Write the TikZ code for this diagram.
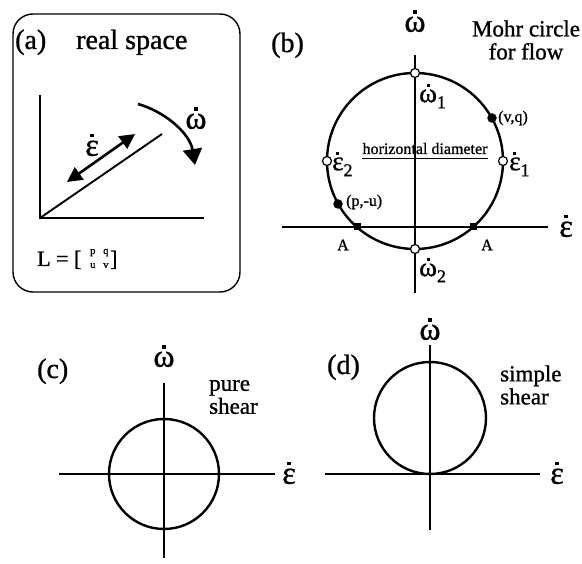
\documentclass[tikz,border=0pt]{standalone}
\usepackage{fontspec}
\setmainfont{Liberation Serif}[FakeBold=1]
\usetikzlibrary{arrows.meta}
\newcommand\dotted[1]{\leavevmode\vbox{\offinterlineskip\halign{\hss##\hss\cr\rule{0.11em}{0.11em}\cr\noalign{\kern0.1em}#1\cr}}}
\newcommand\dotw{\dotted{ω}}
\newcommand\dote{\dotted{ε}}
\begin{document}
\begin{tikzpicture}[x=1pt,y=-1pt,
  axis/.style={line width=1.8pt},
  mohr/.style={line width=2.4pt},
  opendot/.style={circle,draw,fill=white,line width=1.2pt,inner sep=0pt,minimum size=9pt},
  fulldot/.style={circle,fill=black,inner sep=0pt,minimum size=9.5pt},
  sqdot/.style={rectangle,fill=black,inner sep=0pt,minimum size=7pt},
  biglab/.style={font=\fontsize{28}{28}\selectfont,inner sep=0pt},
  axlab/.style={font=\fontsize{32}{32}\selectfont,inner sep=0pt},
  ptlab/.style={font=\fontsize{27}{27}\selectfont,inner sep=0pt},
  smalllab/.style={font=\fontsize{16}{16}\selectfont,inner sep=0pt},
  note/.style={font=\fontsize{23}{23}\selectfont,inner sep=0pt},
  matlab/.style={font=\fontsize{10.5}{10.5}\selectfont,inner sep=0pt},
  thickarrow/.style={line width=2.6pt},
]
\useasboundingbox (0,0) rectangle (582,564);

% ---------- panel (a)
\draw[line width=1.4pt, rounded corners=20pt] (13,14) rectangle (240,292);
\node[biglab, anchor=base west] (alab) at (15,49) {(a)};
\node[biglab, anchor=base west] (rs) at (76,49) {real space};
\coordinate (ao) at (40,218);
\coordinate (ay) at (40,95);
\coordinate (ax) at (204,218);
\coordinate (ad) at (162,134);
\draw[line width=1.9pt] (ay) -- (ao) -- (ax);
\draw[line width=1.9pt] (ao) -- (ad);
\coordinate (ea) at (67,182);
\coordinate (eb) at (135,134);
\draw[thickarrow, {Triangle[length=15pt,width=15pt]}-{Triangle[length=15pt,width=15pt]}] (ea) -- (eb);
\coordinate (wa) at (138,104);
\coordinate (wb) at (195,165);
\draw[thickarrow, -{Triangle[length=16pt,width=19pt]}] (wa) .. controls (166,112) and (190,134) .. (wb);
\node[axlab] (ael) at (92,145) {\dote};
\node[axlab] (awl) at (196,118) {\dotw};
\node[anchor=base west, inner sep=0pt, font=\fontsize{22}{22}\selectfont] (Leq) at (37,266) {L = [};
\node[matlab, anchor=base west] (m11) at (90,254) {p};
\node[matlab, anchor=base west] (m12) at (103,254) {q};
\node[matlab, anchor=base west] (m21) at (90,268) {u};
\node[matlab, anchor=base west] (m22) at (103,268) {v};
\node[anchor=base west, inner sep=0pt, font=\fontsize{22}{22}\selectfont] (Lclose) at (110,266) {]};

% ---------- panel (b)
\node[biglab, anchor=base west] (blab) at (271,52) {(b)};
\coordinate (bc) at (415,161);
\coordinate (bvt) at (415,55);
\coordinate (bvb) at (415,293);
\coordinate (bhl) at (282,227);
\coordinate (bhr) at (548,227);
\draw[axis] (bvt) -- (bvb);
\draw[axis] (bhl) -- (bhr);
\draw[mohr] (bc) circle[radius=88];
\node[smalllab, anchor=base] (hd) at (425,154) {horizontal diameter};
\draw[line width=1pt] ([yshift=-5pt]hd.base west) -- ([yshift=-5pt]hd.base east);
\node[opendot] (w1) at (415,73) {};
\node[opendot] (w2) at (415,249) {};
\node[opendot] (e2) at (327,161) {};
\node[opendot] (e1) at (503,161) {};
\node[fulldot] (vq) at (492,118) {};
\node[fulldot] (pu) at (338,204) {};
\node[sqdot] (A1) at (357,227) {};
\node[sqdot] (A2) at (473,227) {};
\node[axlab] (bwl) at (415,21) {\dotw};
\node[axlab] (bel) at (566,226) {\dote};
\node[note, align=center] (mohr) at (526,40) {Mohr circle\\for flow};
\node[ptlab, anchor=west] (w1l) at (419,96) {\dotw\raisebox{-6pt}{\fontsize{18}{18}\selectfont 1}};
\node[ptlab, anchor=west] (w2l) at (419,270) {\dotw\raisebox{-6pt}{\fontsize{18}{18}\selectfont 2}};
\node[ptlab, anchor=west] (e2l) at (332,164) {\dote\raisebox{-6pt}{\fontsize{18}{18}\selectfont 2}};
\node[ptlab, anchor=west] (e1l) at (509,164) {\dote\raisebox{-6pt}{\fontsize{18}{18}\selectfont 1}};
\node[smalllab, anchor=west] (vql) at (498,118) {(v,q)};
\node[smalllab, anchor=west] (pul) at (346,202) {(p,-u)};
\node[smalllab] (A1l) at (343,245) {A};
\node[smalllab] (A2l) at (487,245) {A};

% ---------- panel (c)
\node[biglab, anchor=base west] (clab) at (37,378) {(c)};
\coordinate (cc) at (164,474);
\coordinate (cvt) at (164,383);
\coordinate (cvb) at (164,558);
\coordinate (chl) at (59,474);
\coordinate (chr) at (275,474);
\draw[line width=1.6pt] (cvt) -- (cvb);
\draw[line width=1.6pt] (chl) -- (chr);
\draw[mohr] (cc) circle[radius=55];
\node[axlab] (cwl) at (164,356) {\dotw};
\node[axlab] (cel) at (289,473) {\dote};
\node[note, align=left, anchor=west] (ps) at (209,397) {pure\\shear};

% ---------- panel (d)
\node[biglab, anchor=base west] (dlab) at (327,374) {(d)};
\coordinate (dc) at (430,418);
\coordinate (dvt) at (430,345);
\coordinate (dvb) at (430,530);
\coordinate (dhl) at (325,474);
\coordinate (dhr) at (540,474);
\draw[line width=1.6pt] (dvt) -- (dvb);
\draw[line width=1.6pt] (dhl) -- (dhr);
\draw[mohr] (dc) circle[radius=56];
\node[axlab] (dwl) at (430,329) {\dotw};
\node[axlab] (del) at (557,473) {\dote};
\node[note, align=left, anchor=west] (ss) at (500,385) {simple\\shear};
\end{tikzpicture}
\end{document}
